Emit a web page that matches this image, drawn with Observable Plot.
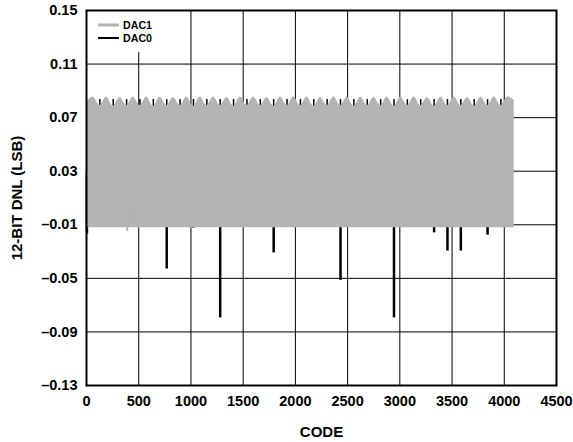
<!DOCTYPE html>
<html><head><meta charset="utf-8">
<script src="https://cdn.jsdelivr.net/npm/d3@7"></script>
<script src="https://cdn.jsdelivr.net/npm/@observablehq/plot@0.6"></script>
<style>
html,body{margin:0;padding:0;background:#fff;}
</style></head><body><div id="chart"></div>
<script>
// ---- data ----
const xTicks = [0, 500, 1000, 1500, 2000, 2500, 3000, 3500, 4000, 4500];
const yTicks = [-0.13, -0.09, -0.05, -0.01, 0.03, 0.07, 0.11, 0.15];

// DAC1 (grey): dense band; upper envelope (dips every 128 codes, humps between) and floor
const dac1EnvCodes = [0,64,128,192,256,320,384,448,512,576,640,704,768,832,896,960,1024,1088,1152,1216,1280,1344,1408,1472,1536,1600,1664,1728,1792,1856,1920,1984,2048,2112,2176,2240,2304,2368,2432,2496,2560,2624,2688,2752,2816,2880,2944,3008,3072,3136,3200,3264,3328,3392,3456,3520,3584,3648,3712,3776,3840,3904,3968,4032,4095];
const dac1Top = [0.0815,0.0855,0.0790,0.0855,0.0785,0.0850,0.0790,0.0855,0.0790,0.0855,0.0785,0.0855,0.0790,0.0850,0.0790,0.0855,0.0785,0.0855,0.0790,0.0855,0.0790,0.0850,0.0785,0.0855,0.0790,0.0855,0.0790,0.0850,0.0785,0.0855,0.0790,0.0855,0.0790,0.0855,0.0785,0.0850,0.0790,0.0855,0.0790,0.0855,0.0785,0.0855,0.0790,0.0850,0.0790,0.0855,0.0785,0.0855,0.0790,0.0855,0.0790,0.0850,0.0785,0.0855,0.0790,0.0855,0.0790,0.0850,0.0785,0.0855,0.0790,0.0855,0.0790,0.0855,0.0830];
const dac1Floor = -0.0122;
const dac1SpikeCodes = [390];
const dac1SpikeValues = [-0.015];

// DAC0 (black): mostly hidden under DAC1; visible peaks at the dips and negative spikes
const dac0PeakCodes = [128,256,384,512,640,768,896,1024,1152,1280,1408,1536,1664,1792,1920,2048,2176,2304,2432,2560,2688,2816,2944,3072,3200,3328,3456,3584,3712,3840,3968];
const dac0PeakValues = [0.0835,0.0835,0.0835,0.0835,0.0835,0.0835,0.0835,0.0835,0.0835,0.0835,0.0835,0.0835,0.0835,0.0835,0.0835,0.0835,0.0835,0.0835,0.0835,0.0835,0.0835,0.0835,0.0835,0.0835,0.0835,0.0835,0.0835,0.0835,0.0835,0.0835,0.0835];
const dac0DipCodes = [4, 768, 1024, 1280, 1792, 2432, 2944, 3328, 3456, 3584, 3840];
const dac0DipValues = [-0.017, -0.043, -0.0125, -0.0795, -0.031, -0.0515, -0.0795, -0.016, -0.0296, -0.0296, -0.0178];

const seriesNames = ["DAC1", "DAC0"];
const seriesColors = ["#b3b3b3", "#000000"];

// ---- tables ----
const dac1Env = dac1EnvCodes.map((c, i) => ({code: c, top: dac1Top[i]}));
const dac1Spikes = dac1SpikeCodes.map((c, i) => ({code: c, value: dac1SpikeValues[i]}));
const dac0Peaks = dac0PeakCodes.map((c, i) => ({code: c, value: dac0PeakValues[i]}));
const dac0Dips = dac0DipCodes.map((c, i) => ({code: c, value: dac0DipValues[i]}));

const fmtY = d => d3.format(".2f")(d).replace("\u2212", "\u2013").replace("-", "\u2013");

function legend(index, scales, values, dimensions) {
  const ml = dimensions && dimensions.marginLeft != null ? dimensions.marginLeft : 86;
  const mt = dimensions && dimensions.marginTop != null ? dimensions.marginTop : 10;
  const g = d3.create("svg:g");
  g.append("rect").attr("x", ml + 1).attr("y", mt + 1).attr("width", 88).attr("height", 41).attr("fill", "#fff");
  const step = 13, y0 = mt + 15;
  seriesNames.forEach((name, i) => {
    const y = y0 + i * step;
    g.append("line").attr("x1", ml + 12).attr("x2", ml + 33).attr("y1", y).attr("y2", y)
      .attr("stroke", seriesColors[i]).attr("stroke-width", i === 0 ? 3 : 2);
    g.append("text").attr("x", ml + 37).attr("y", y).attr("dy", "0.36em")
      .attr("text-anchor", "start").attr("fill", "#000").attr("font-size", 11.5)
      .attr("textLength", 29).attr("lengthAdjust", "spacingAndGlyphs").text(name);
  });
  return g.node();
}

const chart = Plot.plot({
  width: 573, height: 442,
  marginLeft: 86, marginRight: 17, marginTop: 10, marginBottom: 57,
  x: {domain: [0, 4500], ticks: xTicks},
  y: {domain: [-0.13, 0.15], ticks: yTicks},
  style: {fontFamily: "'Liberation Sans', Arial, sans-serif", fontWeight: "bold", fontSize: "14.5px", color: "#000", background: "#fff"},
  marks: [
    Plot.gridX(xTicks, {stroke: "#000", strokeOpacity: 1, strokeWidth: 1}),
    Plot.gridY(yTicks, {stroke: "#000", strokeOpacity: 1, strokeWidth: 1}),
    Plot.ruleX(dac0Peaks, {x: "code", y1: 0.03, y2: "value", stroke: seriesColors[1], strokeWidth: 1.5}),
    Plot.ruleX(dac0Dips, {x: "code", y1: 0.03, y2: "value", stroke: seriesColors[1], strokeWidth: 2.5}),
    Plot.areaY(dac1Env, {x: "code", y1: dac1Floor, y2: "top", fill: seriesColors[0], curve: "catmull-rom"}),
    Plot.ruleX(dac1Spikes, {x: "code", y1: 0, y2: "value", stroke: seriesColors[0], strokeWidth: 2}),
    legend,
    Plot.frame({stroke: "#000", strokeWidth: 2}),
    Plot.axisX({ticks: xTicks, tickSize: 0, tickPadding: 10, label: null, tickFormat: d => String(d), fontSize: 14.5}),
    Plot.axisY({ticks: yTicks, tickSize: 0, tickPadding: 9, label: null, tickFormat: fmtY, fontSize: 14.5}),
    Plot.text(["12-BIT DNL (LSB)"], {text: d => d, frameAnchor: "left", textAnchor: "middle", lineAnchor: "middle", rotate: -90, dx: -69, fontSize: 15}),
    Plot.text(["CODE"], {text: d => d, frameAnchor: "bottom", textAnchor: "middle", lineAnchor: "middle", dy: 47, fontSize: 15})
  ]
});
document.getElementById("chart").appendChild(chart);
</script>
</body></html>
